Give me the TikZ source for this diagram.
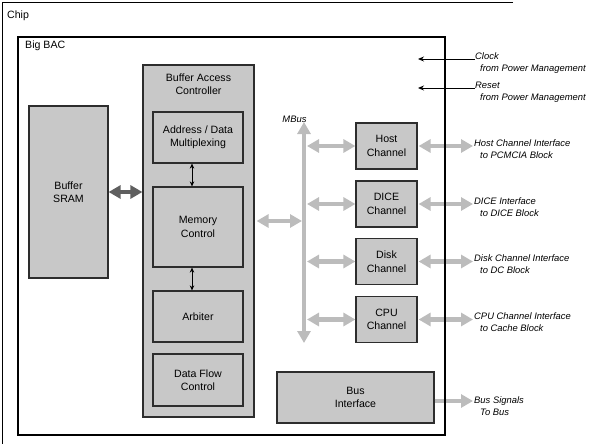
\documentclass[tikz,border=0pt]{standalone}
\usepackage{fontspec}
\setmainfont{Liberation Sans}
\usetikzlibrary{calc,arrows.meta}
\definecolor{boxgray}{RGB}{200,200,200}
\definecolor{busgray}{RGB}{188,188,188}
\definecolor{sramgray}{RGB}{95,95,95}
\definecolor{edgegray}{RGB}{45,45,45}
\newcommand{\blockfont}{\fontsize{10.6}{13.5}\selectfont}
\newcommand{\sigfont}{\fontsize{9.4}{12.2}\selectfont\itshape}

\begin{document}
\begin{tikzpicture}[x=1pt,y=-1pt]
       \tikzstyle{block} = [rectangle, draw=edgegray, line width=1.2pt, fill=boxgray, align=center, inner sep=0pt, font=\blockfont];
       \tikzstyle{title} = [inner sep=0pt, align=center, font=\blockfont];
       \tikzstyle{sig} = [inner sep=0pt, align=left, anchor=base west, yshift=-12.2pt, font=\sigfont];
       \tikzstyle{bus} = [busgray, line width=4.5pt, {Triangle[length=12pt,width=13pt]}-{Triangle[length=12pt,width=13pt]}];
       \tikzstyle{busout} = [busgray, line width=4.5pt, -{Triangle[length=12pt,width=13pt]}];
       \tikzstyle{ctl} = [black, line width=0.9pt, -{Stealth[length=6pt,width=5pt]}];
       \tikzstyle{ctlboth} = [black, line width=0.9pt, {Stealth[length=5pt,width=4.5pt]}-{Stealth[length=5pt,width=4.5pt]}];
       \useasboundingbox (0,0) rectangle (597,444);

       % Chip frame
       \draw[line width=0.8pt] (513,2) -- (2,2) -- (2,444);
       \node[title, anchor=west] (chip) at (7,15.5) {Chip};

       % left side of Big BAC
       \node[block, minimum width=79, minimum height=172] (sram) at (68.5,192) {Buffer\\SRAM};
       \node[block, minimum width=111, minimum height=352] (bac) at (198.5,241) {};
       \node[title] (bactitle) at (198.5,84) {Buffer Access\\Controller};
       \node[block, minimum width=90, minimum height=51] (addr) at (198,137.5) {Address / Data\\Multiplexing};
       \node[block, minimum width=90, minimum height=80] (mem) at (198,227) {Memory\\Control};
       \node[block, minimum width=90, minimum height=51] (arb) at (198,316.5) {Arbiter};
       \node[block, minimum width=90, minimum height=52] (dfc) at (198,380) {Data Flow\\Control};

       \draw[ctlboth] ([xshift=-6pt]addr.south) -- ([xshift=-6pt]mem.north);
       \draw[ctlboth] ([xshift=-6pt]mem.south) -- ([xshift=-6pt]arb.north);
       \draw[bus, sramgray, line width=4pt] (sram.east) -- (sram.east -| bac.west);

       % channels
       \node[block, minimum width=61, minimum height=46] (host) at (386.5,146) {Host\\Channel};
       \node[block, minimum width=61, minimum height=46] (dice) at (386.5,204) {DICE\\Channel};
       \node[block, minimum width=61, minimum height=46] (disk) at (386.5,261.5) {Disk\\Channel};
       \node[block, minimum width=61, minimum height=46] (cpu) at (386.5,319.5) {CPU\\Channel};
       \node[block, minimum width=157, minimum height=51] (busif) at (355.5,397.5) {Bus\\Interface};

       % MBus
       \coordinate (mbtop) at (304,122);
       \coordinate (mbbot) at (304,343);
       \coordinate (mbtap) at (307,122);
       \coordinate (mbbac) at (302,221);
       \draw[bus, line width=4pt] (mbbot) -- (mbtop);
       \node[inner sep=0pt, font=\sigfont] (mbus) at (294.5,119) {MBus};
       \draw[bus] ([xshift=2pt]bac.east |- mbbac) -- (mbbac);
       \draw[bus] (mbtap |- host.west) -- (host.west);
       \draw[bus] (mbtap |- dice.west) -- (dice.west);
       \draw[bus] (mbtap |- disk.west) -- (disk.west);
       \draw[bus] (mbtap |- cpu.west) -- (cpu.west);

       % interfaces to the rest of the chip
       \coordinate (hostif) at (473,146);
       \coordinate (diceif) at (473,204);
       \coordinate (diskif) at (473,261.5);
       \coordinate (cpuif) at (473,319.5);
       \coordinate (bussig) at (473,401);
       \draw[bus] ([xshift=1pt]host.east) -- (hostif);
       \draw[bus] ([xshift=1pt]dice.east) -- (diceif);
       \draw[bus] ([xshift=1pt]disk.east) -- (diskif);
       \draw[bus] ([xshift=1pt]cpu.east) -- (cpuif);
       \draw[busout] (busif.east |- bussig) -- (bussig);

       \node[sig] (hostlbl) at ([xshift=1pt]hostif) {Host Channel Interface\\\hspace*{6pt}to PCMCIA Block};
       \node[sig] (dicelbl) at ([xshift=1pt]diceif) {DICE Interface\\\hspace*{6pt}to DICE Block};
       \node[sig] (disklbl) at ([xshift=1pt]diskif) {Disk Channel Interface\\\hspace*{6pt}to DC Block};
       \node[sig] (cpulbl) at ([xshift=1pt]cpuif) {CPU Channel Interface\\\hspace*{6pt}to Cache Block};
       \node[sig] (buslbl) at ([xshift=1pt,yshift=-2pt]bussig) {Bus Signals\\\hspace*{6pt}To Bus};

       % clock and reset
       \coordinate (clk) at (475,59);
       \coordinate (clkend) at (418,59);
       \coordinate (rst) at (475,88);
       \coordinate (rstend) at (418,88);
       \draw[ctl] (clk) -- (clkend);
       \draw[ctl] (rst) -- (rstend);
       \node[sig] (clklbl) at (clk) {Clock\\\hspace*{5pt}from Power Management};
       \node[sig] (rstlbl) at (rst) {Reset\\\hspace*{5pt}from Power Management};

       % Big BAC frame on top of the arrows
       \node[draw, line width=1.8pt, minimum width=427, minimum height=398, inner sep=0pt] (bigbac) at (231.5,236) {};
       \node[title, anchor=west] (bigbaclbl) at (25,46) {Big BAC};
\end{tikzpicture}
\end{document}
